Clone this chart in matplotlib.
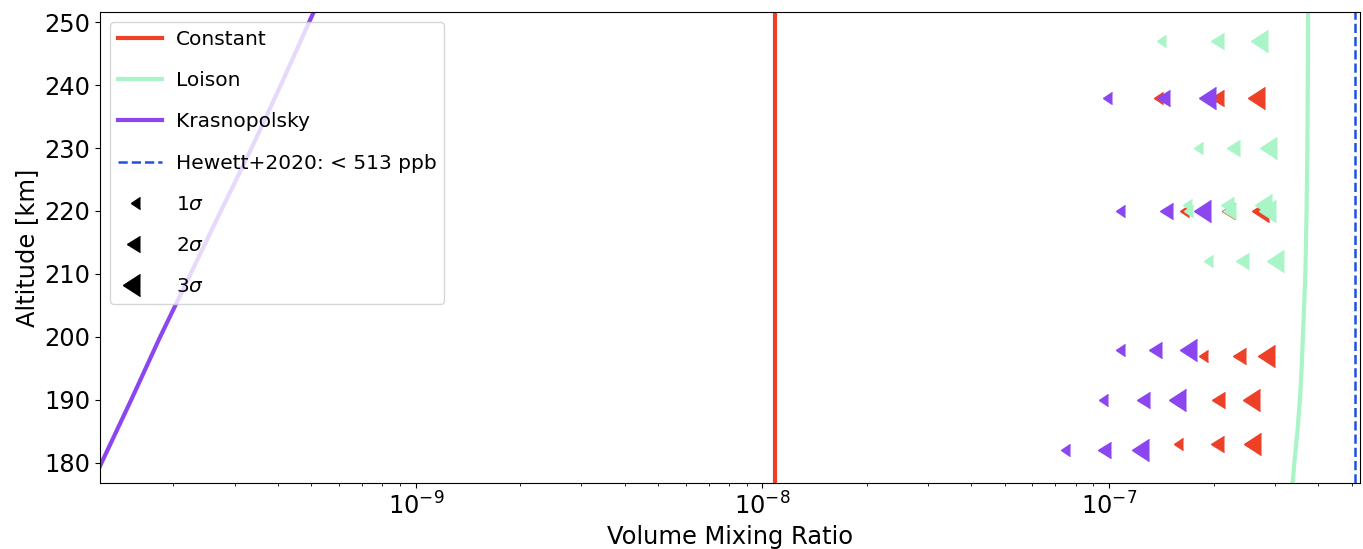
import numpy as np
import matplotlib
matplotlib.use("Agg")
import matplotlib.pyplot as plt
from matplotlib.lines import Line2D

# Model profiles (altitude [km], volume mixing ratio)
const_alt = [170, 260]
const_vmr = [1.09e-8, 1.09e-8]

loison_alt = [176, 180, 185, 190, 195, 200, 210, 220, 230, 240, 253]
loison_vmr = [3.37e-7, 3.42e-7, 3.49e-7, 3.55e-7, 3.59e-7, 3.62e-7, 3.68e-7, 3.71e-7, 3.73e-7, 3.74e-7, 3.75e-7]

krasno_alt = [176, 180, 190, 200, 210, 220, 230, 240, 253]
krasno_vmr = [1.15e-10, 1.24e-10, 1.51e-10, 1.83e-10, 2.24e-10, 2.74e-10, 3.36e-10, 4.08e-10, 5.21e-10]

hewett_limit = 5.13e-7

# Upper limits per model: altitude and the 1, 2, 3 sigma values
const_lim_alt = [183, 190, 197, 220, 238]
const_lim_1s = [1.634e-7, 1.64e-7, 1.932e-7, 1.703e-7, 1.427e-7]
const_lim_2s = [2.149e-7, 2.153e-7, 2.482e-7, 2.303e-7, 2.139e-7]
const_lim_3s = [2.742e-7, 2.717e-7, 3.015e-7, 2.898e-7, 2.822e-7]

loison_lim_alt = [212, 220, 221, 230, 247]
loison_lim_1s = [1.988e-7, 1.741e-7, 1.734e-7, 1.861e-7, 1.459e-7]
loison_lim_2s = [2.538e-7, 2.323e-7, 2.297e-7, 2.386e-7, 2.139e-7]
loison_lim_3s = [3.202e-7, 3.029e-7, 2.943e-7, 3.041e-7, 2.866e-7]

krasno_lim_alt = [182, 190, 198, 220, 238]
krasno_lim_1s = [7.71e-8, 9.90e-8, 1.111e-7, 1.113e-7, 1.020e-7]
krasno_lim_2s = [1.013e-7, 1.315e-7, 1.421e-7, 1.525e-7, 1.501e-7]
krasno_lim_3s = [1.300e-7, 1.670e-7, 1.793e-7, 1.967e-7, 2.034e-7]

sigma_labels = [r'1$\sigma$', r'2$\sigma$', r'3$\sigma$']

c_const = '#EE4027'
c_loison = '#AAF5C8'
c_krasno = '#8B46F0'
c_hewett = '#1E50E6'
sizes = [8.4, 12.2, 16.0]

fig = plt.figure(figsize=(13.63, 5.49), dpi=100)
ax = fig.add_axes([0.0734, 0.1202, 0.9244, 0.8579])

ax.plot(const_vmr, const_alt, color=c_const, lw=3)
ax.plot(loison_vmr, loison_alt, color=c_loison, lw=3)
ax.plot(krasno_vmr, krasno_alt, color=c_krasno, lw=3)
ax.axvline(hewett_limit, color=c_hewett, ls='--', lw=1.8)

# upper-limit markers (caret with its base at the value)
groups = [
    (const_lim_alt, [const_lim_1s, const_lim_2s, const_lim_3s], c_const),
    (loison_lim_alt, [loison_lim_1s, loison_lim_2s, loison_lim_3s], c_loison),
    (krasno_lim_alt, [krasno_lim_1s, krasno_lim_2s, krasno_lim_3s], c_krasno),
]
for alts, vals, col in groups:
    for v, ms in zip(vals, sizes):
        ax.plot(v, alts, ls='none', marker=8, ms=ms, color=col)

ax.set_xscale('log')
ax.set_xlim(1.228e-10, 5.29e-7)
ax.set_ylim(176.8, 251.6)
ax.set_yticks(np.arange(180, 251, 10))
ax.set_xlabel('Volume Mixing Ratio', fontsize=17.4)
ax.set_ylabel('Altitude [km]', fontsize=17.4)
ax.tick_params(labelsize=17.4)

handles = [
    Line2D([], [], color=c_const, lw=3),
    Line2D([], [], color=c_loison, lw=3),
    Line2D([], [], color=c_krasno, lw=3),
    Line2D([], [], color=c_hewett, ls='--', lw=1.8),
]
labels = ['Constant', 'Loison', 'Krasnopolsky', 'Hewett+2020: < 513 ppb']
for ms, lab in zip(sizes, sigma_labels):
    handles.append(Line2D([], [], ls='none', marker=8, ms=ms, color='k'))
    labels.append(lab)
ax.legend(handles, labels, loc='upper left', fontsize=14.5,
          labelspacing=1.1, handlelength=2.2, handletextpad=0.65)

fig.savefig('out.png', dpi=100)
